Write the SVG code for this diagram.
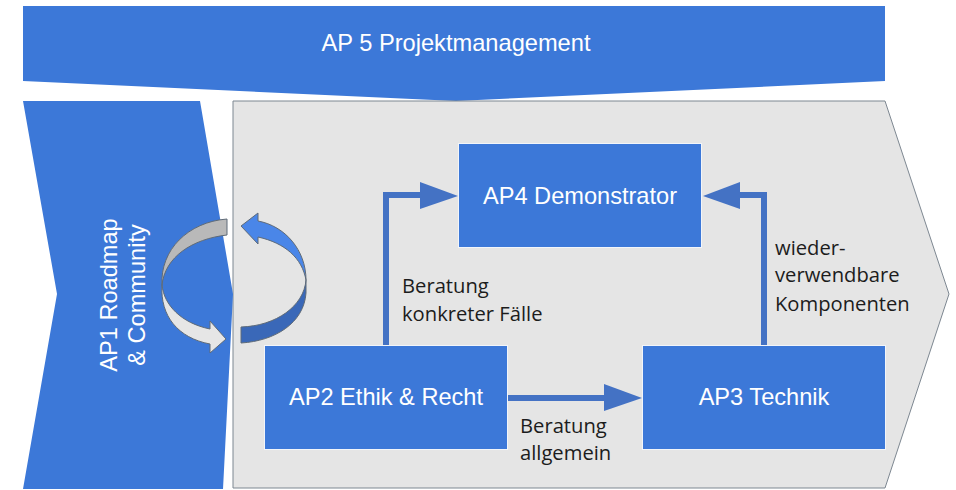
<svg xmlns="http://www.w3.org/2000/svg" width="956" height="490" viewBox="0 0 956 490">
<style>
.b{fill:#3c78d8}
.box{fill:#3c78d8;stroke:#f2f5fa;stroke-width:1}
.w{fill:#fff;font-family:"Liberation Sans",Arial,sans-serif;font-size:23.600px}
.k{fill:#1c1c1c;font-family:"Open Sans","Noto Sans",sans-serif;font-size:20.200px}
.c{fill:none;stroke:#4472c4;stroke-width:6}
.h{fill:#4472c4}
.a{stroke:#5f6b78;stroke-width:1}
</style>
<rect width="956" height="490" fill="#fff"/>
<g id="ap5"><path class="b" d="M23 6H885V81L456 101L23 81Z"/><text class="w" x="456" y="51" text-anchor="middle" textLength="269" lengthAdjust="spacingAndGlyphs">AP 5 Projektmanagement</text></g>
<g id="ap0-background"><path d="M233 101H885L949 294L885 488H233Z" fill="#e5e5e5" stroke="#7d8791" stroke-width="1"/></g>
<g id="ap1"><path class="b" d="M23 101H200L233 294L223 489H23L57 294Z"/><text class="w" transform="translate(117 295) rotate(-90)" text-anchor="middle" x="0" y="0">AP1 Roadmap</text><text class="w" transform="translate(145 295) rotate(-90)" text-anchor="middle" x="0" y="0">&amp; Community</text></g>
<g id="ap4"><rect class="box" x="458.500" y="143.500" width="243" height="104"/><text class="w" x="580" y="204" text-anchor="middle">AP4 Demonstrator</text></g>
<g id="ap2"><rect class="box" x="264.500" y="345.500" width="243" height="104"/><text class="w" x="386" y="405" text-anchor="middle">AP2 Ethik &amp; Recht</text></g>
<g id="ap3"><rect class="box" x="642.500" y="345.500" width="243" height="104"/><text class="w" x="764" y="405" text-anchor="middle">AP3 Technik</text></g>
<g id="connectors">
<path class="c" d="M386 345V195H422"/><path class="h" d="M420 182L458 196L420 209Z"/>
<path class="c" d="M764 345V195H738"/><path class="h" d="M740 182L703 196L740 209Z"/>
<path class="c" d="M508 398H606"/><path class="h" d="M604 384L642 398L604 411Z"/>
</g>
<g id="cycle-arrows">
<path class="a" fill="#b9b9b9" d="M227 219V235C192 239 165 257 162 285C160 250 188 222 227 219Z"/>
<path class="a" fill="#e6e6e6" d="M162 285C164 305 181 323 210 329V321L226 339L210 353V344C178 338 160 316 162 285Z"/>
<path class="a" fill="#4a86e8" d="M241 226L258 213V221C285 226 306 250 306 280C302 258 285 243 258 237V244Z"/>
<path class="a" fill="#3a68b8" d="M241 327C276 326 304 306 306 280V293C304 323 275 341 241 343Z"/>
</g>
<g id="labels" class="k">
<text class="k" x="402" y="293">Beratung</text><text class="k" x="402" y="321">konkreter Fälle</text>
<text class="k" x="520" y="433">Beratung</text><text class="k" x="520" y="460">allgemein</text>
<text class="k" x="775" y="255">wieder-</text><text class="k" x="775" y="282">verwendbare</text><text class="k" x="775" y="311">Komponenten</text>
</g>
</svg>
